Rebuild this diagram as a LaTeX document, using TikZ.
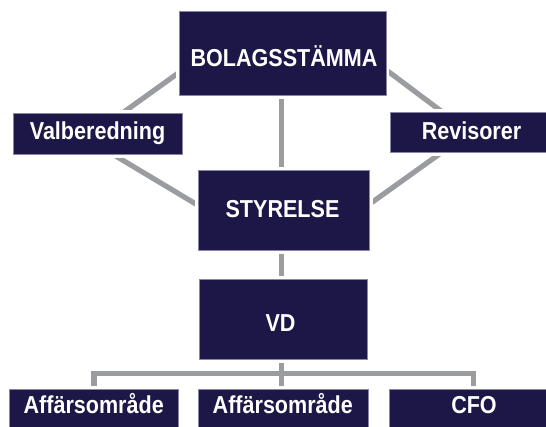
\documentclass[tikz,border=0pt]{standalone}
\usepackage{fontspec}
\newfontfamily\boxfont{Liberation Sans}[FakeStretch=0.88]
\usetikzlibrary{calc,backgrounds}
\definecolor{navy}{HTML}{1D1747}
\definecolor{conn}{HTML}{9A9CA0}
\definecolor{edge}{HTML}{8A87A6}
\begin{document}
\begin{tikzpicture}[x=1pt,y=-1pt,
  box/.style={rectangle, inner sep=0pt, fill=navy, draw=edge, line width=0.6pt,
    preaction={draw=white, line width=7pt}},
  lbl/.style={anchor=base, text=white, inner sep=0pt,
    font=\boxfont\bfseries\fontsize{24.5}{24.5}\selectfont},
  link/.style={draw=conn, line width=5.2pt}]
\useasboundingbox (0,0) rectangle (546,426);
% boxes
\node[box, minimum width=206.5pt, minimum height=84pt] (bol) at (282.55,53.7) {};
\node[box, minimum width=168.6pt, minimum height=41pt] (val) at (97.5,133.8) {};
\node[box, minimum width=164.6pt, minimum height=40pt] (rev) at (473,132.7) {};
\node[box, minimum width=170.6pt, minimum height=80pt] (sty) at (283.8,210.7) {};
\node[box, minimum width=168.5pt, minimum height=80pt] (vd) at (283.45,319.3) {};
\node[box, minimum width=168.6pt, minimum height=60pt] (b1) at (94,419.3) {};
\node[box, minimum width=170.6pt, minimum height=60pt] (b2) at (283.1,419.3) {};
\node[box, minimum width=169pt, minimum height=60pt] (b3) at (473.5,419.3) {};
% labels
\node[lbl] (tbol) at (284,66) {BOLAGSSTÄMMA};
\node[lbl] (tval) at (97.5,139) {Valberedning};
\node[lbl] (trev) at (471.5,139) {Revisorer};
\node[lbl] (tsty) at (282.5,217) {STYRELSE};
\node[lbl] (tvd) at (280.5,331) {VD};
\node[lbl] (tb1) at (93.7,413.3) {Affärsområde};
\node[lbl] (tb2) at (282.8,413.3) {Affärsområde};
\node[lbl] (tb3) at (474,413.3) {CFO};
% connectors
\begin{pgfonlayer}{background}
\draw[link] ([xshift=25pt]val.north) -- ([yshift=-18.8pt]bol.west);
\draw[link] ([xshift=15.9pt]val.south) -- ([yshift=5.3pt]sty.west);
\draw[link] ([yshift=-16.2pt]bol.east) -- ([xshift=-30.1pt]rev.north);
\draw[link] ([xshift=-32.1pt]rev.south) -- ([yshift=6.5pt]sty.east);
\draw[link] ([xshift=-1.05pt]bol.south) -- ([xshift=-2.3pt]sty.north);
\draw[link] ([xshift=-2.3pt]sty.south) -- ([xshift=-1.95pt]vd.north);
\draw[link] ([xshift=-1.95pt]vd.south) -- ([xshift=-1.6pt]b2.north);
\coordinate (bar) at (281.5,373.8);
\draw[link] (b1.north) |- (bar) -| (b3.north);
\end{pgfonlayer}
\end{tikzpicture}
\end{document}
